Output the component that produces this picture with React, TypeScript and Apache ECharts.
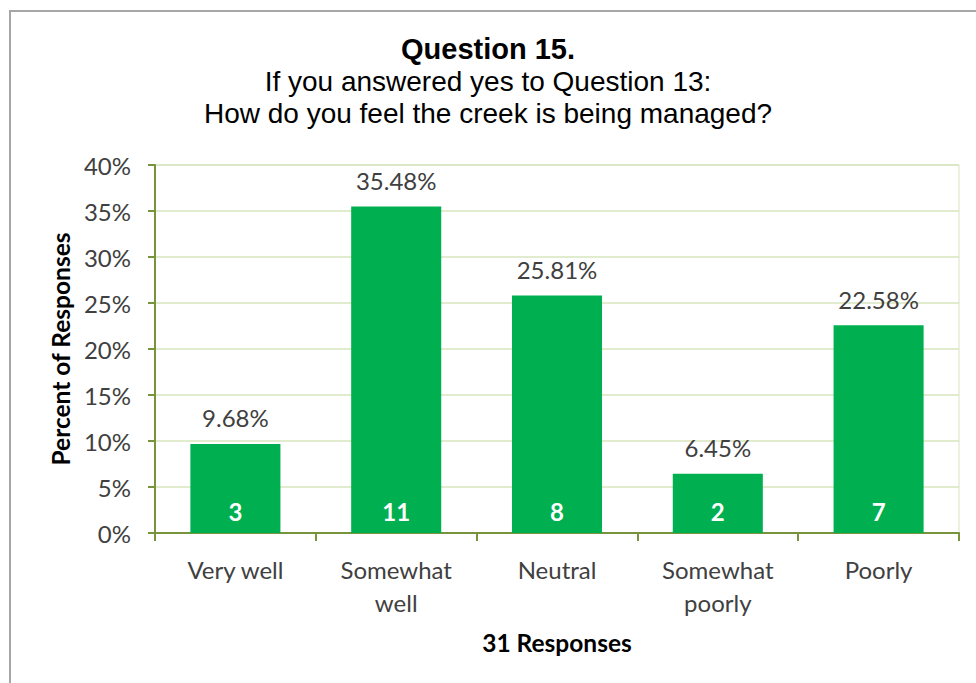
import React, { useEffect, useRef } from "react";
import * as echarts from "echarts";

const categories = ["Very well", "Somewhat\nwell", "Neutral", "Somewhat\npoorly", "Poorly"];
const percentValues = [9.68, 35.48, 25.81, 6.45, 22.58];
const countValues = [3, 11, 8, 2, 7];
const yTicks = { min: 0, max: 40, interval: 5 };
const titleText = "Question 15.";
const subtitleText = "If you answered yes to Question 13:\nHow do you feel the creek is being managed?";
const yName = "Percent of Responses";
const xName = "31 Responses";

const LABEL_FONT = "Lato, 'Open Sans', sans-serif";
const TITLE_FONT = "'Liberation Sans', Arial, sans-serif";

export default function App() {
  const ref = useRef<HTMLDivElement>(null);
  useEffect(() => {
    if (!ref.current) return;
    const chart = echarts.init(ref.current, undefined, { renderer: "svg" });
    chart.setOption({
      animation: false,
      backgroundColor: "#ffffff",
      graphic: [
        {
          type: "rect",
          z: -10,
          shape: { x: 10, y: 11, width: 1000, height: 700 },
          style: { fill: "#ffffff", stroke: "#a6a6a6", lineWidth: 2 },
          silent: true,
        },
      ],
      title: [
        {
          text: titleText,
          left: "center",
          top: 29,
          textStyle: { fontFamily: TITLE_FONT, fontSize: 29, fontWeight: "bold", color: "#000000" },
        },
        {
          text: subtitleText,
          left: "center",
          top: 60,
          textStyle: {
            fontFamily: TITLE_FONT,
            fontSize: 28,
            fontWeight: "normal",
            color: "#000000",
            lineHeight: 32,
          },
        },
      ],
      grid: {
        left: 155,
        top: 165,
        right: 17,
        bottom: 150,
        show: true,
        borderColor: "#d7e4bd",
        borderWidth: 1,
        containLabel: false,
      },
      xAxis: {
        type: "category",
        data: categories,
        name: xName,
        nameLocation: "middle",
        nameGap: 97,
        nameTextStyle: { fontFamily: LABEL_FONT, fontSize: 24.5, fontWeight: "bold", color: "#000000" },
        axisLine: { lineStyle: { color: "#77933c", width: 2 } },
        axisTick: { show: true, length: 8, lineStyle: { color: "#77933c", width: 2 } },
        axisLabel: {
          fontFamily: LABEL_FONT,
          fontSize: 24,
          color: "#404040",
          lineHeight: 33,
          margin: 20,
          interval: 0,
        },
      },
      yAxis: {
        type: "value",
        min: yTicks.min,
        max: yTicks.max,
        interval: yTicks.interval,
        name: yName,
        nameLocation: "middle",
        nameGap: 80,
        nameTextStyle: { fontFamily: LABEL_FONT, fontSize: 24.5, fontWeight: "bold", color: "#000000" },
        axisLine: { show: true, lineStyle: { color: "#77933c", width: 2 } },
        axisTick: { show: true, length: 7, lineStyle: { color: "#77933c", width: 2 } },
        axisLabel: {
          formatter: "{value}%",
          fontFamily: LABEL_FONT,
          fontSize: 24,
          color: "#404040",
          margin: 24,
        },
        splitLine: { show: true, lineStyle: { color: "#d7e4bd", width: 1.5 } },
      },
      series: [
        {
          type: "bar",
          data: percentValues,
          barWidth: "56%",
          itemStyle: { color: "#00b050" },
          label: {
            show: true,
            position: "top",
            distance: 14,
            formatter: (p: any) => `${p.value.toFixed(2)}%`,
            fontFamily: LABEL_FONT,
            fontSize: 24,
            color: "#404040",
          },
        },
        {
          type: "bar",
          data: percentValues,
          barWidth: "56%",
          barGap: "-100%",
          itemStyle: { color: "rgba(0,0,0,0)" },
          silent: true,
          label: {
            show: true,
            position: "insideBottom",
            distance: 10,
            formatter: (p: any) => String(countValues[p.dataIndex]),
            fontFamily: LABEL_FONT,
            fontSize: 24,
            fontWeight: "bold",
            color: "#ffffff",
          },
        },
      ],
    });
    return () => chart.dispose();
  }, []);
  return (
    <div
      ref={ref}
      style={{ position: "absolute", left: 0, top: 0, width: 976, height: 683 }}
    />
  );
}
